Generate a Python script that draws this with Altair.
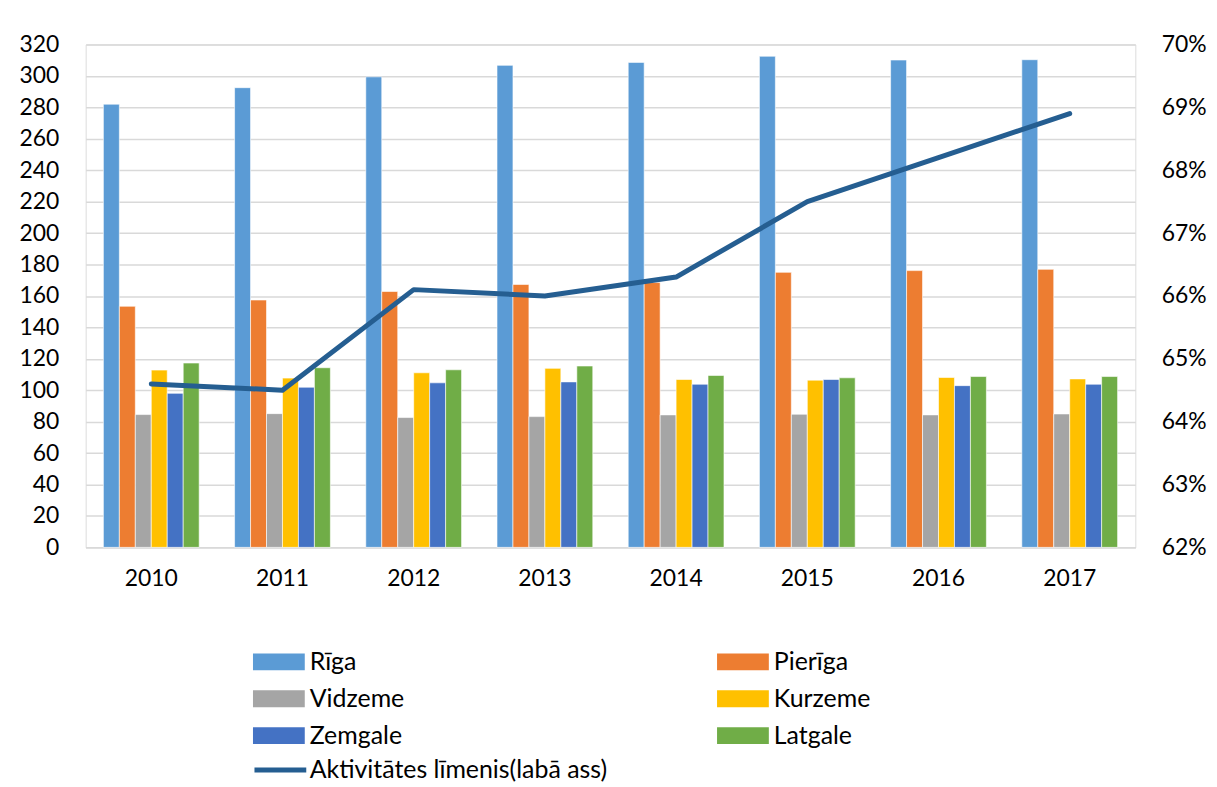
import altair as alt
import pandas as pd

years = ["2010", "2011", "2012", "2013", "2014", "2015", "2016", "2017"]
regions = ["Rīga", "Pierīga", "Vidzeme", "Kurzeme", "Zemgale", "Latgale"]
region_colors = ["#5B9BD5", "#ED7D31", "#A5A5A5", "#FFC000", "#4472C4", "#70AD47"]

riga = [282.0, 292.5, 299.4, 306.7, 308.6, 312.5, 310.1, 310.3]
pieriga = [153.4, 157.4, 162.8, 167.3, 168.5, 175.0, 176.1, 176.9]
vidzeme = [84.5, 85.1, 82.6, 83.2, 84.3, 84.7, 84.3, 84.9]
kurzeme = [112.8, 107.7, 111.1, 113.9, 106.8, 106.4, 108.1, 107.2]
zemgale = [98.0, 101.9, 104.7, 105.3, 103.8, 106.8, 102.9, 103.8]
latgale = [117.3, 114.3, 113.0, 115.4, 109.4, 107.9, 108.7, 108.7]

line_name = "Aktivitātes līmenis(labā ass)"
activity = [0.646, 0.645, 0.661, 0.660, 0.663, 0.675, 0.682, 0.689]

left_ticks = list(range(0, 321, 20))
right_ticks = [0.62, 0.63, 0.64, 0.65, 0.66, 0.67, 0.68, 0.69, 0.70]

series = [riga, pieriga, vidzeme, kurzeme, zemgale, latgale]
rows = []
for reg, vals in zip(regions, series):
    for y, v in zip(years, vals):
        rows.append({"year": y, "region": reg, "value": v})
df_bars = pd.DataFrame(rows)
df_line = pd.DataFrame({"year": years, "rate": activity, "series": [line_name] * len(years)})

FONT = "Lato"
LEG_FS = 25
x_enc = alt.X(
    "year:N",
    sort=years,
    scale=alt.Scale(paddingInner=0.27, paddingOuter=0.135),
    axis=alt.Axis(
        title=None, labelAngle=0, ticks=False, domainColor="#D9D9D9", domainWidth=1.5,
        labelFontSize=23, labelPadding=20, labelColor="#000000", labelFont=FONT,
    ),
)

# wide rectangle symbol: 52 x 17 px drawn from a 36 px nominal symbol size
rect_path = "M-1,-0.47L1.889,-0.47L1.889,0.47L-1,0.47Z"

bars = alt.Chart(df_bars).mark_bar(stroke="white", strokeWidth=0.6).encode(
    x=x_enc,
    xOffset=alt.XOffset("region:N", sort=regions, scale=alt.Scale(domain=regions, paddingInner=0, paddingOuter=0)),
    y=alt.Y(
        "value:Q",
        scale=alt.Scale(domain=[0, 320], nice=False),
        axis=alt.Axis(
            title=None, values=left_ticks, domain=False, ticks=False, grid=True,
            gridColor="#D9D9D9", gridWidth=1.5, labelFontSize=23, labelPadding=27,
            labelColor="#000000", labelFont=FONT,
        ),
    ),
    color=alt.Color(
        "region:N",
        sort=regions,
        scale=alt.Scale(domain=regions, range=region_colors),
        legend=alt.Legend(
            title=None, orient="none", legendX=168, legendY=602, columns=2,
            direction="horizontal", columnPadding=314, rowPadding=6,
            symbolType=rect_path, symbolSize=1296,
            symbolStrokeWidth=0, labelFontSize=LEG_FS, labelFont=FONT, labelColor="#000000",
            labelOffset=21, padding=0,
        ),
    ),
)

line = alt.Chart(df_line).mark_line(strokeWidth=5, strokeCap="round", strokeJoin="round").encode(
    x=x_enc,
    y=alt.Y(
        "rate:Q",
        scale=alt.Scale(domain=[0.62, 0.70], nice=False, zero=False),
        axis=alt.Axis(
            title=None, orient="right", values=right_ticks, format=".0%", domain=False,
            ticks=False, grid=False, labelFontSize=23, labelPadding=26,
            labelColor="#000000", labelFont=FONT,
        ),
    ),
    stroke=alt.Stroke(
        "series:N",
        scale=alt.Scale(domain=[line_name], range=["#255E91"]),
        legend=alt.Legend(
            title=None, orient="none", legendX=167, legendY=700,
            symbolType="stroke", symbolSize=2704, symbolStrokeWidth=5,
            labelFontSize=LEG_FS, labelFont=FONT, labelColor="#000000", labelOffset=1,
            labelLimit=500, padding=0,
        ),
    ),
)

chart = (
    alt.layer(bars, line)
    .resolve_scale(y="independent")
    .properties(width=1054, height=505, padding={"left": 10, "top": 24, "right": 2, "bottom": 0})
    .configure_view(stroke=None)
    .configure(background="white")
)

chart.save("out.html", embed_options={"renderer": "svg", "actions": False})
